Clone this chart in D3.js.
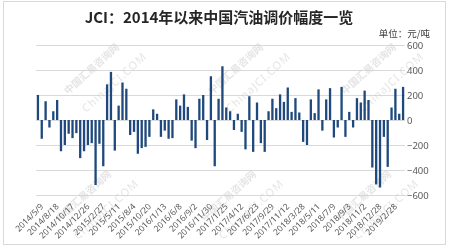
<!DOCTYPE html>
<html>
<head>
<meta charset="utf-8">
<script src="https://cdn.jsdelivr.net/npm/d3@7"></script>
<style>
  body { margin: 0; background: #fff; }
  svg text { font-family: "Noto Sans", "Noto Sans CJK SC", sans-serif; }
</style>
</head>
<body>
<div id="chart"></div>
<script>
// 2014年以来每次调价幅度（元/吨），按调价窗口顺序
const changes = [
  200, -150, 150, -60, 70, 160, -250, -200, -110, -145,
  -105, -305, -250, -200, -185, -520, -190, -370, 285, 385,
  -245, 115, 300, 250, -120, -95, -270, -225, -215, -135,
  85, 50, -135, -85, -150, -145, 165, 115, 205, 105,
  -165, -225, 170, 200, -160, 350, -370, 170, 430, 100,
  70, -80, 50, -95, -235, 190, -255, 140, -185, -255,
  70, 170, 95, 205, 145, 260, 65, 175, 60, -175,
  -200, 165, 55, 245, -85, 165, 255, -140, -60, 265,
  -135, 65, -60, 175, 140, 235, 160, -380, -515, -540,
  -135, -375, 100, 250, 50, 265
];

// 横轴每隔4个窗口标注一次日期
const dateLabels = [
  "2014/5/9", "2014/8/18", "2014/10/17", "2014/12/26", "2015/2/27", "2015/5/11",
  "2015/8/4", "2015/10/20", "2016/1/13", "2016/6/8", "2016/9/2", "2016/11/30",
  "2017/1/25", "2017/4/12", "2017/6/23", "2017/9/29", "2017/11/12", "2018/3/28",
  "2018/5/11", "2018/7/9", "2018/9/3", "2018/11/2", "2018/12/28", "2019/2/28"
];
const labelStep = 4;
const yTicks = [-600, -400, -200, 0, 200, 400, 600];

const W = 449, H = 248;
const plot = { left: 36, right: 405, top: 45, bottom: 195 };

const svg = d3.select("#chart").append("svg")
    .attr("width", W)
    .attr("height", H);

// outer frame
svg.append("rect")
    .attr("x", 3.5).attr("y", 1.5)
    .attr("width", 442).attr("height", 243)
    .attr("fill", "#fff")
    .attr("stroke", "#d9d9d9");

const x = d3.scaleBand()
    .domain(d3.range(changes.length))
    .range([plot.left, plot.right])
    .paddingInner(0.4)
    .paddingOuter(0.2);

const y = d3.scaleLinear()
    .domain([-600, 600])
    .range([plot.bottom, plot.top]);

// gridlines
svg.append("g")
    .attr("transform", `translate(${plot.left},0)`)
    .call(d3.axisLeft(y).tickValues(yTicks).tickSize(-(plot.right - plot.left)).tickFormat(""))
    .call(g => g.select(".domain").remove())
    .call(g => g.selectAll("line").attr("stroke", "#d9d9d9"));

// faint watermark
const wm = svg.append("g").attr("fill", "#cfcfcf").attr("opacity", 0.55)
    .style("font-family", "'Noto Sans CJK SC', sans-serif");
[[68, 95], [212, 95], [345, 95], [60, 222], [205, 222], [340, 222]].forEach(([wx, wy]) => {
  wm.append("text").attr("transform", `translate(${wx},${wy}) rotate(-42)`)
      .attr("font-size", 10).attr("font-weight", "bold").text("中国汇易咨询网");
  wm.append("text").attr("transform", `translate(${wx + 18},${wy + 18}) rotate(-42)`)
      .attr("font-size", 11).attr("letter-spacing", 1).text("ChinaJCI.COM");
});

// bars
svg.append("g")
  .selectAll("rect")
  .data(changes)
  .join("rect")
    .attr("x", (d, i) => x(i))
    .attr("width", x.bandwidth())
    .attr("y", d => y(Math.max(0, d)))
    .attr("height", d => Math.abs(y(d) - y(0)))
    .attr("fill", "#1f497d");

// right value axis
svg.append("g")
    .attr("transform", `translate(${plot.right},0)`)
    .call(d3.axisRight(y).tickValues(yTicks).tickSize(0).tickPadding(2))
    .call(g => g.select(".domain").remove())
    .call(g => g.selectAll("text")
        .attr("fill", "#595959")
        .attr("font-size", 9.5));

// date axis
svg.append("g")
    .attr("transform", `translate(0,${plot.bottom})`)
    .call(d3.axisBottom(x)
        .tickValues(d3.range(0, changes.length, labelStep))
        .tickFormat(i => dateLabels[i / labelStep])
        .tickSize(0))
    .call(g => g.select(".domain").remove())
    .call(g => g.selectAll("text")
        .attr("x", 0).attr("y", 0).attr("dy", "0.35em")
        .attr("transform", "translate(4,10) rotate(-45)")
        .attr("text-anchor", "end")
        .attr("fill", "#595959")
        .attr("font-size", 8.5));

// title and unit
svg.append("text")
    .attr("x", 219).attr("y", 23)
    .attr("text-anchor", "middle")
    .attr("font-size", 15).attr("font-weight", "bold")
    .attr("fill", "#262626")
    .style("font-family", "'Noto Sans CJK SC', sans-serif")
    .text("JCI：2014年以来中国汽油调价幅度一览");

svg.append("text")
    .attr("x", 430).attr("y", 37)
    .attr("text-anchor", "end")
    .attr("font-size", 9.5)
    .attr("fill", "#404040")
    .style("font-family", "'Noto Sans CJK SC', sans-serif")
    .text("单位：元/吨");
</script>
</body>
</html>
